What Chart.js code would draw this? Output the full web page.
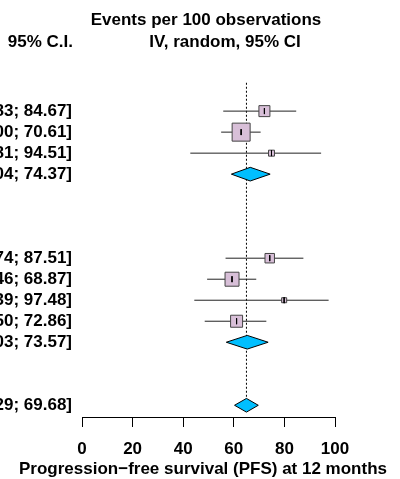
<!DOCTYPE html>
<html>
<head>
<meta charset="utf-8">
<script src="https://cdn.jsdelivr.net/npm/chart.js@4.4.1/dist/chart.umd.min.js"></script>
<style>
  html, body { margin: 0; padding: 0; background: #fff; }
  #wrap { width: 400px; height: 479px; position: relative; }
</style>
</head>
<body>
<div id="wrap"><canvas id="forestChart"></canvas></div>
<script>
// Study rows (row index counts down the plot)
var studyRows = [0, 1, 2, 7, 8, 9, 10];
var studyEst = [72.10, 62.90, 74.90, 74.20, 59.30, 79.90, 61.10];
var studyLower = [55.83, 55.00, 42.81, 56.74, 49.46, 44.39, 48.50];
var studyUpper = [84.67, 70.61, 94.51, 87.51, 68.87, 97.48, 72.86];
var studyWeight = [12.9, 34.6, 3.8, 9.6, 20.9, 2.7, 15.4];

// Pooled estimates (two subgroups + overall)
var pooledRows = [3, 11, 14];
var pooledEst = [66.50, 65.30, 65.00];
var pooledLower = [59.04, 57.03, 60.29];
var pooledUpper = [74.37, 73.57, 69.68];

var refValue = 65;
var xTicks = [0, 20, 40, 60, 80, 100];

function fmt(v) {
  return v.toFixed(2);
}
function ciText(e, l, u) {
  return fmt(e) + " [" + fmt(l) + "; " + fmt(u) + "]";
}

// pixel helpers for layout only
var rowTop = 104, rowStep = 21.5, canvasH = 479, axisY = 417;
var yMin = -rowTop / rowStep;
var yMax = (axisY - rowTop) / rowStep;
var maxSide = 18;
var maxW = Math.max.apply(null, studyWeight);

// CI lines, with gaps between the rows
var ciData = [];
var tickData = [];
studyRows.forEach(function (r, i) {
  ciData.push({ x: studyLower[i], y: r }, { x: studyUpper[i], y: r }, { x: null, y: null });
  tickData.push({ x: studyEst[i], y: r - 0.14 }, { x: studyEst[i], y: r + 0.14 }, { x: null, y: null });
});

var squareData = studyRows.map(function (r, i) {
  return { x: studyEst[i], y: r };
});
var squareRadius = studyWeight.map(function (w) {
  var side = maxSide * Math.sqrt(w / maxW);
  return side / Math.SQRT2;
});

var diamondHalf = 7 / rowStep;
var diamondSets = pooledRows.map(function (r, i) {
  return {
    type: "line",
    data: [
      { x: pooledLower[i], y: r },
      { x: pooledEst[i], y: r - diamondHalf },
      { x: pooledUpper[i], y: r },
      { x: pooledEst[i], y: r + diamondHalf },
      { x: pooledLower[i], y: r },
    ],
    borderColor: "#000",
    borderWidth: 1,
    backgroundColor: "#00bfff",
    fill: "shape",
    pointRadius: 0,
    order: 1,
  };
});

var fontFamily = "'Liberation Sans', Arial, sans-serif";
var labelFont = "bold 17px " + fontFamily;

// Text columns and headers
var textPlugin = {
  id: "forestText",
  afterDraw: function (chart) {
    var ctx = chart.ctx;
    var yScale = chart.scales.y;
    ctx.save();
    ctx.font = labelFont;
    ctx.fillStyle = "#000";
    ctx.textBaseline = "middle";
    ctx.textAlign = "right";
    studyRows.forEach(function (r, i) {
      ctx.fillText(ciText(studyEst[i], studyLower[i], studyUpper[i]), 72, yScale.getPixelForValue(r));
    });
    pooledRows.forEach(function (r, i) {
      ctx.fillText(ciText(pooledEst[i], pooledLower[i], pooledUpper[i]), 72, yScale.getPixelForValue(r));
    });
    ctx.fillText("95% C.I.", 73, 42);
    ctx.textAlign = "center";
    ctx.fillText("Events per 100 observations", 206, 20);
    ctx.fillText("IV, random, 95% CI", 225, 42);
    ctx.fillText("Progression\u2212free survival (PFS) at 12 months", 203, 469);
    ctx.restore();
  },
};

var ctx = document.getElementById("forestChart").getContext("2d");
var forestChart = new Chart(ctx, {
  type: "line",
  data: {
    datasets: [
      {
        data: tickData,
        borderColor: "#000",
        borderWidth: 1,
        pointRadius: 0,
        spanGaps: false,
        order: 0,
      },
      {
        data: squareData,
        showLine: false,
        pointStyle: "rect",
        pointRadius: squareRadius,
        backgroundColor: "#d8bfd8",
        borderColor: "#444",
        pointBorderWidth: 1,
        order: 1,
      },
      {
        data: ciData,
        borderColor: "#222",
        borderWidth: 1,
        pointRadius: 0,
        spanGaps: false,
        order: 2,
      },
    ]
      .concat(diamondSets)
      .concat([
        {
          data: [
            { x: refValue, y: -1.35 },
            { x: refValue, y: 13.77 },
          ],
          borderColor: "#000",
          borderWidth: 1,
          borderDash: [2, 2],
          pointRadius: 0,
          order: 5,
        },
      ]),
  },
  options: {
    responsive: true,
    maintainAspectRatio: false,
    animation: false,
    events: [],
    layout: {
      padding: { left: 82, right: 65, top: 0, bottom: 0 },
    },
    elements: {
      line: { tension: 0 },
    },
    plugins: {
      legend: { display: false },
      tooltip: { enabled: false },
    },
    scales: {
      x: {
        type: "linear",
        min: 0,
        max: 100,
        afterFit: function (scale) {
          scale.height = canvasH - axisY;
        },
        afterBuildTicks: function (scale) {
          scale.ticks = xTicks.map(function (v) {
            return { value: v };
          });
        },
        grid: {
          display: true,
          drawOnChartArea: false,
          drawTicks: true,
          tickLength: 10,
          color: "#000",
          lineWidth: 1,
        },
        border: { display: true, color: "#000", width: 1 },
        ticks: {
          color: "#000",
          padding: 12,
          maxRotation: 0,
          font: { family: fontFamily, size: 17, weight: "bold" },
        },
      },
      y: {
        type: "linear",
        display: false,
        reverse: true,
        min: yMin,
        max: yMax,
      },
    },
  },
  plugins: [textPlugin],
});
</script>
</body>
</html>
